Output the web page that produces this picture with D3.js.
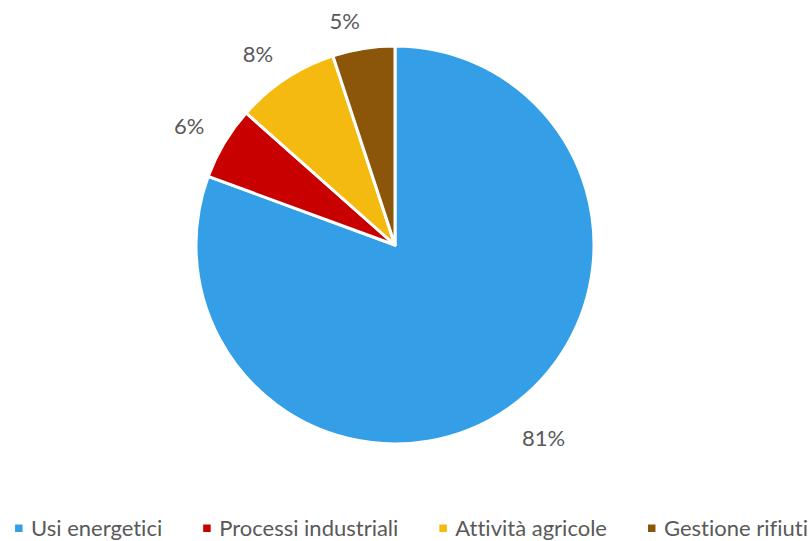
<!DOCTYPE html>
<html><head><meta charset="utf-8">
<script src="https://cdn.jsdelivr.net/npm/d3@7"></script>
<style>body{margin:0;background:#fff}svg{display:block}text{font-variant-ligatures:none;font-feature-settings:"liga" 0,"clig" 0}</style>
</head><body>
<svg id="c" width="810" height="541"></svg>
<script>
const categories = ["Usi energetici", "Processi industriali", "Attività agricole", "Gestione rifiuti"];
const values = [80.6, 5.95, 8.4, 5.05];
const colors = ["#349FE6", "#C80000", "#F4BA10", "#8C560A"];

const W = 810, H = 541, cx = 395, cy = 245, R = 199;
const svg = d3.select("#c");
const font = "Lato, 'Open Sans', sans-serif";
const textColor = "#595959";
const fs = 22, capH = 0.72 * fs;

const pie = d3.pie().sort(null).value(d => d)(values);
const arc = d3.arc().innerRadius(0).outerRadius(R);
const g = svg.append("g").attr("transform", `translate(${cx},${cy})`);
g.selectAll("path").data(pie).join("path")
  .attr("d", arc).attr("fill", (d, i) => colors[i])
  .attr("stroke", "#fff").attr("stroke-width", 3).attr("stroke-linejoin", "round");

const total = d3.sum(values);
g.selectAll("text.lbl").data(pie).join("text").attr("class", "lbl")
  .attr("font-family", font).attr("font-size", fs).attr("fill", textColor)
  .attr("text-anchor", "middle")
  .text(d => Math.round(d.value / total * 100) + "%")
  .each(function(d) {
    const w = this.getComputedTextLength();
    const a = (d.startAngle + d.endAngle) / 2;
    const s = Math.sin(a), c = -Math.cos(a);
    const pr = R + 23;
    const px = pr * s, py = pr * c;
    const mx = px + Math.sign(s) * w / 2;
    const my = py + Math.sign(c) * capH / 2 + 3;
    d3.select(this).attr("x", mx).attr("y", my + capH / 2);
  });

// legend
const lg = svg.append("g");
const items = lg.selectAll("g").data(categories).join("g");
items.append("rect").attr("width", 7.5).attr("height", 7.5).attr("y", 524.5)
  .attr("fill", (d, i) => colors[i]);
items.append("text").attr("font-family", font).attr("font-size", fs).attr("fill", textColor)
  .attr("y", 536).attr("x", 16).text(d => d);
let x = 0; const pos = [];
items.each(function() {
  const w = d3.select(this).select("text").node().getComputedTextLength();
  pos.push(x); x += 16 + w + 41;
});
const totalW = x - 41;
const x0 = 411.5 - totalW / 2;
items.attr("transform", (d, i) => `translate(${x0 + pos[i]},0)`);
</script>
</body></html>
